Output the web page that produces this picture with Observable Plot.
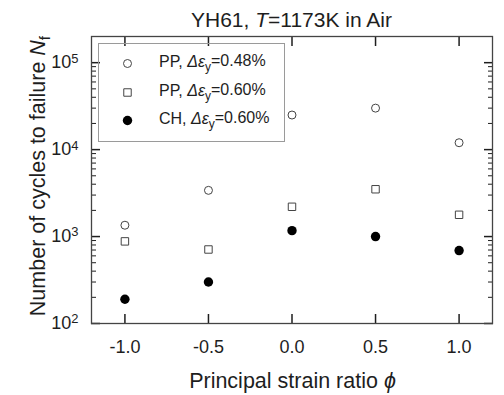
<!DOCTYPE html>
<html><head><meta charset="utf-8">
<script src="https://cdn.jsdelivr.net/npm/d3@7"></script>
<script src="https://cdn.jsdelivr.net/npm/@observablehq/plot@0.6"></script>
<style>body{margin:0;background:#fff} svg{display:block}</style>
</head><body><div id="chart"></div>
<script>
// principal strain ratio
const phi = [-1.0, -0.5, 0.0, 0.5, 1.0];
// cycles to failure
const ppLow  = [1350, 3400, 25000, 30000, 12000]; // PP, Δεy=0.48%
const ppHigh = [880, 710, 2200, 3500, 1780];      // PP, Δεy=0.60%
const chHigh = [190, 300, 1170, 1000, 690];       // CH, Δεy=0.60%
const legendNames = ["PP", "PP", "CH"];
const legendStrains = ["0.48%", "0.60%", "0.60%"];
const xTicks = [-1.0, -0.5, 0.0, 0.5, 1.0];
const yMajor = [1e2, 1e3, 1e4, 1e5];
const yMinor = [1e2, 1e3, 1e4].flatMap(b => [2,3,4,5,6,7,8,9].map(m => m * b));

const font = "'Liberation Sans', Arial, Helvetica, sans-serif";
const ink = "#1e1e1e";

const plot = Plot.plot({
  width: 504, height: 395,
  marginTop: 36, marginRight: 12, marginBottom: 72, marginLeft: 91,
  style: {fontFamily: font, background: "white", color: ink},
  x: {domain: [-1.2, 1.2]},
  y: {type: "log", domain: [100, 2e5]},
  marks: [
    // ticks (inward, mirrored)
    Plot.axisX(xTicks, {anchor: "bottom", tickSize: -9, tickFormat: () => "", label: null, strokeWidth: 1.5}),
    Plot.axisX(xTicks, {anchor: "top", tickSize: -9, tickFormat: () => "", label: null, strokeWidth: 1.5}),
    Plot.axisY(yMajor, {anchor: "left", tickSize: -9, tickFormat: () => "", label: null, strokeWidth: 1.5}),
    Plot.axisY(yMinor, {anchor: "left", tickSize: -5, tickFormat: () => "", label: null}),
    Plot.axisY(yMajor, {anchor: "right", tickSize: -9, tickFormat: () => "", label: null, strokeWidth: 1.5}),
    Plot.axisY(yMinor, {anchor: "right", tickSize: -5, tickFormat: () => "", label: null}),
    // tick labels
    Plot.axisX(xTicks, {anchor: "bottom", tickSize: 0, tickPadding: 17, tickFormat: d => d.toFixed(1), label: null, fontSize: 18}),
    Plot.axisY(yMajor, {anchor: "left", tickSize: 0, tickPadding: 13, tickFormat: d => String(Math.round(Math.log10(d))), label: null, fontSize: 18}),
    Plot.frame({stroke: "#444", strokeWidth: 1.3}),
    // legend box and symbols
    Plot.frame({stroke: "#9a9a9a", insetLeft: 7, insetTop: 7, insetRight: 208, insetBottom: 182}),
    Plot.dot([0], {frameAnchor: "top-left", dx: 36, dy: 27, r: 4, stroke: "#444", strokeWidth: 1, fill: "none"}),
    Plot.dot([0], {frameAnchor: "top-left", dx: 36, dy: 56, r: 4.2, symbol: "square", stroke: "#444", strokeWidth: 1, fill: "none"}),
    Plot.dot([0], {frameAnchor: "top-left", dx: 36, dy: 84, r: 4.7, fill: "black", stroke: "none"}),
    // data
    Plot.dot(ppLow, {x: phi, y: ppLow, r: 4, stroke: "#444", strokeWidth: 1, fill: "none"}),
    Plot.dot(ppHigh, {x: phi, y: ppHigh, r: 4.2, symbol: "square", stroke: "#444", strokeWidth: 1, fill: "none"}),
    Plot.dot(chHigh, {x: phi, y: chHigh, r: 4.7, fill: "black", stroke: "none"})
  ]
});

const svg = d3.select(plot);

// y tick labels: 10^n with superscript
svg.selectAll('g[aria-label="y-axis tick label"] text').each(function() {
  const t = d3.select(this);
  const e = t.text();
  if (!e) return;
  t.text("");
  t.append("tspan").text("10");
  t.append("tspan").attr("dy", "-0.45em").attr("font-size", "0.72em").text(e);
});

// title
const title = svg.append("text").attr("x", 291.5).attr("y", 26.5).attr("text-anchor", "middle")
  .attr("font-size", 21).attr("fill", ink).attr("font-family", font);
title.append("tspan").text("YH61, ");
title.append("tspan").attr("font-style", "italic").text("T");
title.append("tspan").text("=1173K in Air");

// x label
const xl = svg.append("text").attr("x", 292.5).attr("y", 388).attr("text-anchor", "middle")
  .attr("font-size", 21.5).attr("fill", ink).attr("font-family", font);
xl.append("tspan").text("Principal strain ratio ");
xl.append("tspan").attr("font-style", "italic").text("\u03D5");

// y label
const yl = svg.append("text").attr("transform", "translate(45,176) rotate(-90)").attr("text-anchor", "middle")
  .attr("font-size", 21.5).attr("fill", ink).attr("font-family", font);
yl.append("tspan").text("Number of cycles to failure ");
yl.append("tspan").attr("font-style", "italic").text("N");
yl.append("tspan").attr("font-size", "0.72em").attr("dy", "0.3em").text("f");

// legend text
const rowsY = [67, 96, 124];
legendNames.forEach((n, i) => {
  const t = svg.append("text").attr("x", 159).attr("y", rowsY[i]).attr("font-size", 16)
    .attr("text-anchor", "start").attr("fill", ink).attr("font-family", font);
  t.append("tspan").text(n + ", ");
  t.append("tspan").attr("font-style", "italic").text("Δε");
  t.append("tspan").attr("font-size", "0.75em").attr("dy", "0.35em").text("y");
  t.append("tspan").attr("dy", "-0.35em").text("=" + legendStrains[i]);
});

document.getElementById("chart").appendChild(plot);
</script>
</body></html>
